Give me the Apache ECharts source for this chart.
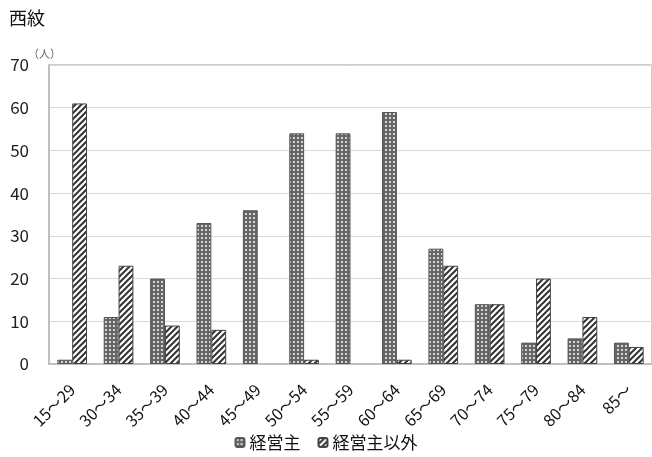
<!DOCTYPE html>
<html>
<head>
<meta charset="utf-8">
<script src="https://cdn.jsdelivr.net/npm/echarts@6/dist/echarts.min.js"></script>
<style>
html,body{margin:0;padding:0;background:#fff;}
#chart{width:652px;height:457px;}
</style>
</head>
<body>
<div id="chart"></div>
<script>
// Age bands (人数 by age group)
var categories = ['15～29','30～34','35～39','40～44','45～49','50～54','55～59','60～64','65～69','70～74','75～79','80～84','85～'];
var ownerValues = [1, 11, 20, 33, 36, 54, 54, 59, 27, 14, 5, 6, 5];
var otherValues = [61, 23, 9, 8, 0, 1, 0, 1, 23, 14, 20, 11, 4];
var yTicks = [0, 10, 20, 30, 40, 50, 60, 70];

var FONT = '"Noto Sans CJK JP", "Noto Sans", sans-serif';

// dotted grid fill for 経営主
function gridPattern() {
  var c = document.createElement('canvas');
  c.width = 4; c.height = 4;
  var g = c.getContext('2d');
  g.fillStyle = '#666666';
  g.fillRect(0, 0, 4, 4);
  g.fillStyle = '#d4d4d4';
  g.fillRect(1, 1, 2, 2);
  return c;
}
// diagonal hatch fill for 経営主以外
function hatchPattern() {
  var s = 6;
  var c = document.createElement('canvas');
  c.width = s; c.height = s;
  var g = c.getContext('2d');
  g.fillStyle = '#ffffff';
  g.fillRect(0, 0, s, s);
  g.strokeStyle = '#333333';
  g.lineWidth = 2;
  g.beginPath();
  for (var k = -s; k <= 2 * s; k += s) {
    g.moveTo(k - s, s);
    g.lineTo(k + s, -s);
    g.moveTo(k - s, 2 * s);
    g.lineTo(k + s, 0);
  }
  g.stroke();
  return c;
}

// zero-height bars get no outline
function barData(values) {
  return values.map(function (v) {
    return v === 0 ? {value: v, itemStyle: {borderWidth: 0}} : v;
  });
}

var chart = echarts.init(document.getElementById('chart'), null, {renderer: 'canvas'});
chart.setOption({
  animation: false,
  backgroundColor: '#ffffff',
  textStyle: {fontFamily: FONT},
  graphic: [
    {type: 'text', left: 9, top: 9, style: {text: '西紋', font: '18px ' + FONT, fill: '#111'}},
    {type: 'text', left: 28, top: 48, style: {text: '（人）', font: '11px ' + FONT, fill: '#666'}}
  ],
  grid: {left: 49, right: -8, top: 65, bottom: 93, show: true, borderColor: '#9a9a9a', borderWidth: 1, containLabel: false},
  legend: {
    bottom: 1, left: 'center',
    itemWidth: 9, itemHeight: 9, itemGap: 17,
    textStyle: {fontSize: 17, color: '#111', fontFamily: FONT},
    data: ['経営主', '経営主以外']
  },
  xAxis: {
    type: 'category',
    data: categories,
    axisLine: {show: true, lineStyle: {color: '#bfbfbf', width: 2}},
    axisTick: {show: false},
    axisLabel: {rotate: 45, fontSize: 16, color: '#111', margin: 23, interval: 0, fontFamily: FONT}
  },
  yAxis: {
    type: 'value',
    min: yTicks[0], max: yTicks[yTicks.length - 1], interval: 10,
    axisLine: {show: true, lineStyle: {color: '#bfbfbf', width: 2}},
    axisTick: {show: false},
    splitLine: {lineStyle: {color: '#d9d9d9', width: 1}},
    axisLabel: {fontSize: 17, color: '#222', margin: 20, fontFamily: FONT}
  },
  series: [
    {
      name: '経営主', type: 'bar', data: barData(ownerValues),
      barGap: '0%', barCategoryGap: '36%',
      itemStyle: {color: {image: gridPattern(), repeat: 'repeat'}, borderColor: '#555', borderWidth: 1}
    },
    {
      name: '経営主以外', type: 'bar', data: barData(otherValues),
      itemStyle: {color: {image: hatchPattern(), repeat: 'repeat'}, borderColor: '#444', borderWidth: 1}
    }
  ]
});
</script>
</body>
</html>
